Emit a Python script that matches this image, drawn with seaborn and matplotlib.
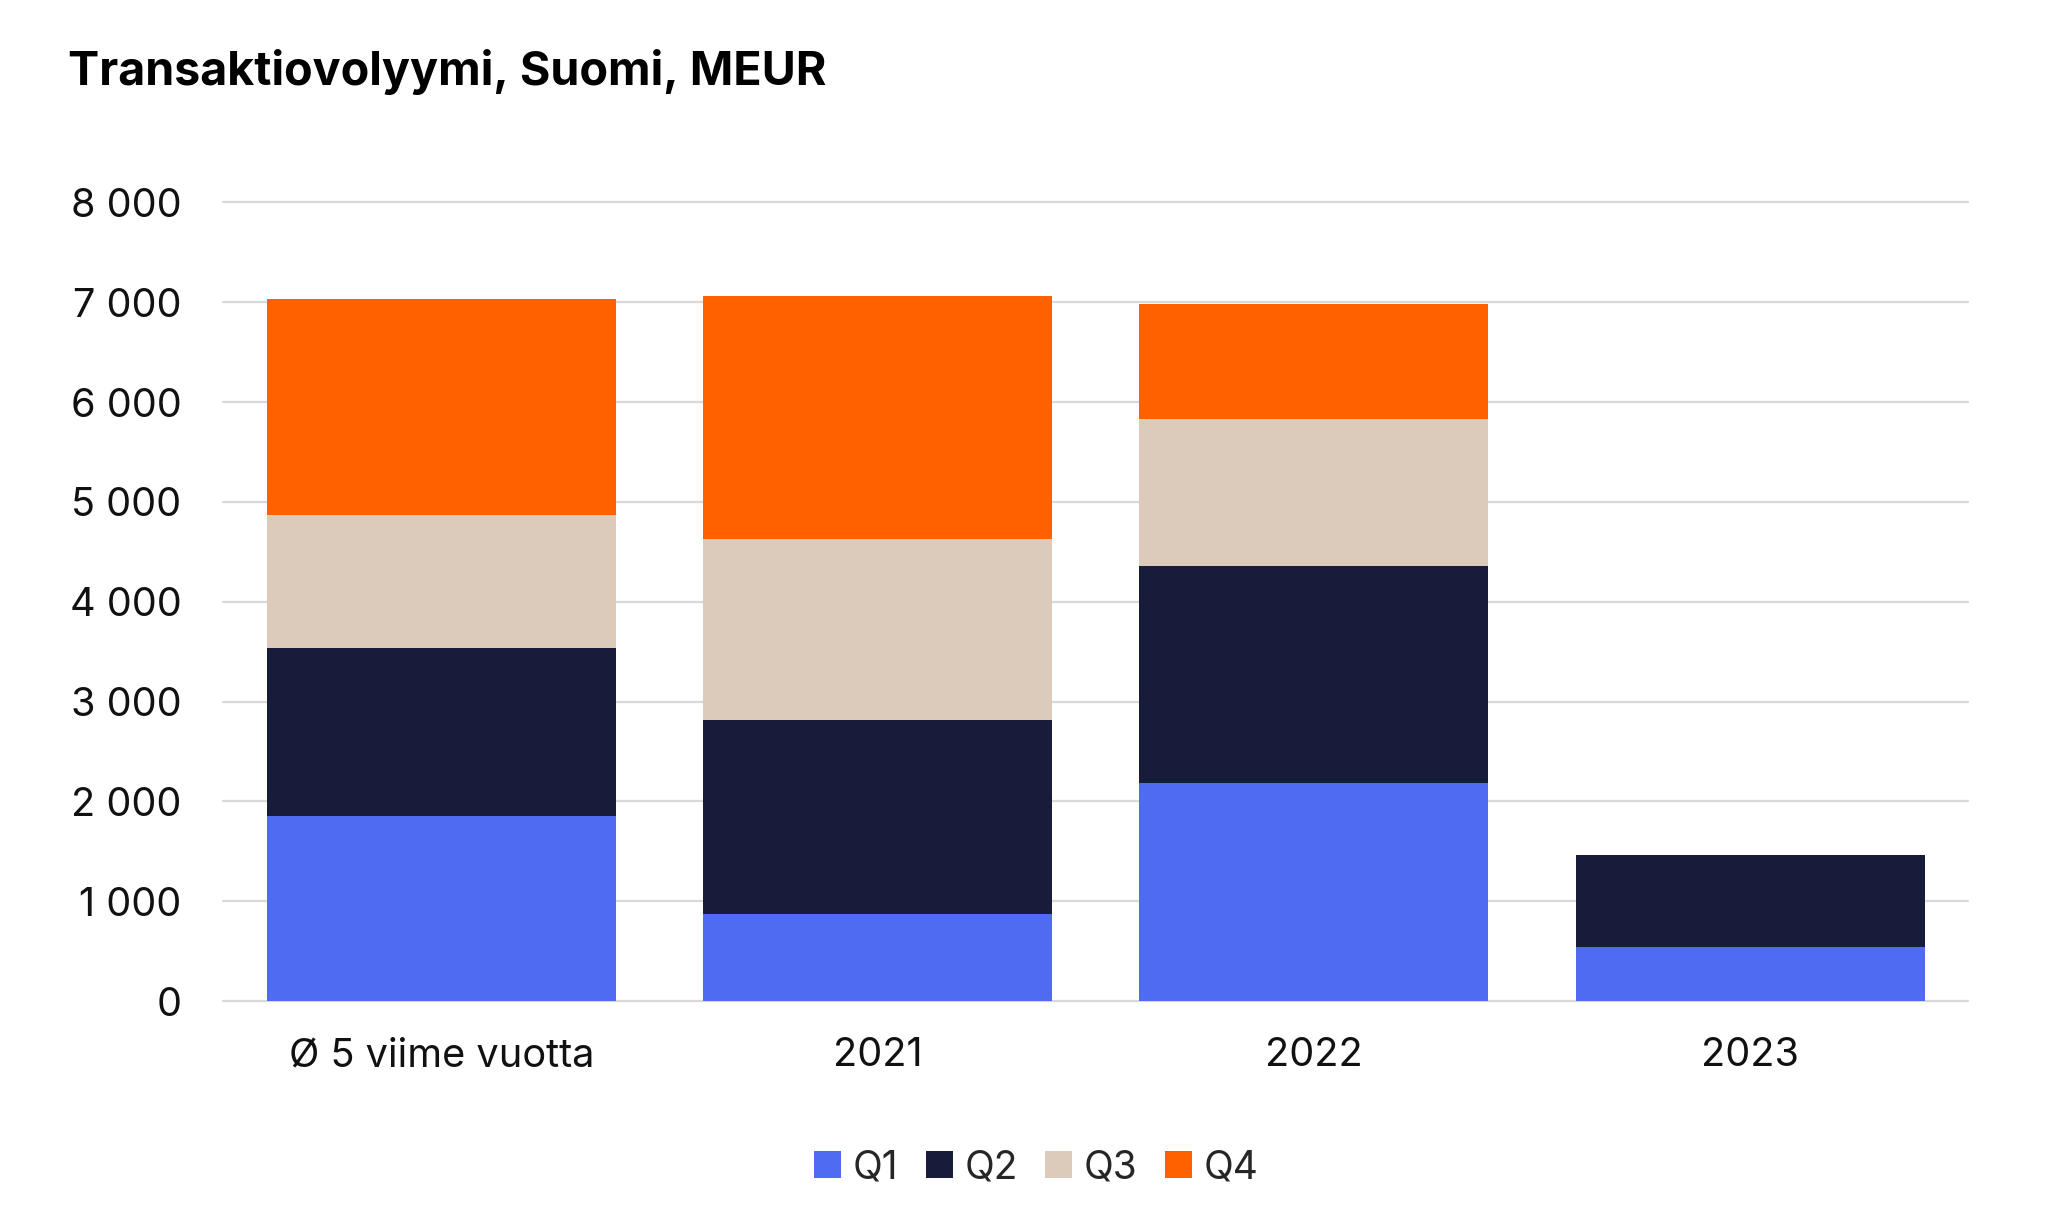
import matplotlib
matplotlib.use("Agg")
import matplotlib.pyplot as plt
import matplotlib.ticker as mticker
from matplotlib.patches import Patch
import numpy as np
import seaborn as sns

# data (MEUR)
categories = ["Ø 5 viime vuotta", "2021", "2022", "2023"]
quarters = ["Q1", "Q2", "Q3", "Q4"]
q1 = [1855, 870, 2185, 540]
q2 = [1685, 1945, 2170, 920]
q3 = [1330, 1815, 1475, 0]
q4 = [2160, 2435, 1155, 0]

COLORS = ["#4F6BF2", "#171C3B", "#DCCBBB", "#FF6000"]

sns.set_theme(style="white")
plt.rcParams["font.family"] = ["Inter", "DejaVu Sans"]

fig = plt.figure(figsize=(10.24, 6.115), dpi=200)
ax = fig.add_axes([0.109, 0.1815, 0.852, 0.653])

series = [q1, q2, q3, q4]
cum = np.cumsum(np.array(series), axis=0)

# stack by overdrawing cumulative totals, tallest first
for i in range(3, -1, -1):
    sns.barplot(x=categories, y=cum[i], color=COLORS[i], width=0.8,
                saturation=1, ax=ax, zorder=3, linewidth=0)

ax.set_xlim(-0.5, 3.5)
ax.set_ylim(0, 8000)
ax.yaxis.set_major_locator(mticker.MultipleLocator(1000))
ax.yaxis.set_major_formatter(mticker.FuncFormatter(lambda v, p: f"{int(v):,}".replace(",", " ")))
ax.grid(axis="y", color="#D9D9D9", linewidth=0.8, zorder=0)
for ln in ax.get_ygridlines():
    ln.set_clip_on(False)
for s in ax.spines.values():
    s.set_visible(False)
ax.tick_params(axis="y", length=0, pad=15, labelsize=14.3, labelcolor="#111111")
ax.tick_params(axis="x", length=0, pad=13, labelsize=14.3, labelcolor="#111111")
ax.set_xlabel("")
ax.set_ylabel("")

fig.text(0.033, 0.941, "Transaktiovolyymi, Suomi, MEUR", fontsize=16.8,
         fontweight="bold", va="center", ha="left", color="#000000")

handles = [Patch(facecolor=c, edgecolor="none") for c in COLORS]
fig.legend(handles, quarters, loc="center", bbox_to_anchor=(0.506, 0.045),
           ncol=4, frameon=False, fontsize=14, handlelength=0.7,
           handleheight=0.7, handletextpad=0.3, columnspacing=0.7)

plt.savefig("out.png", dpi=200)
plt.close()
